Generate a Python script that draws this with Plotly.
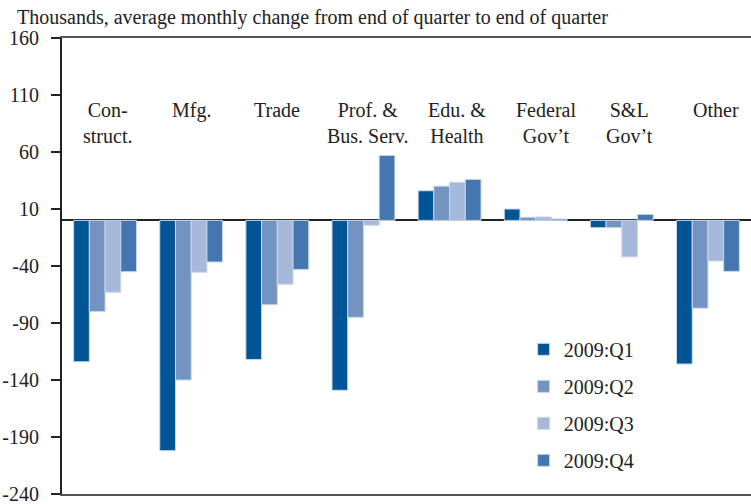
import plotly.graph_objects as go

categories = ["Con-<br>struct.", "Mfg.", "Trade", "Prof. &<br>Bus. Serv.",
              "Edu. &<br>Health", "Federal<br>Gov’t", "S&L<br>Gov’t", "Other"]
q1 = [-124, -202, -122, -149, 26, 10, -6.4, -126]
q2 = [-80, -140, -74, -85, 30, 2.7, -6.4, -77]
q3 = [-63, -45.5, -56, -4.3, 33.4, 3, -32, -35.6]
q4 = [-45, -36.5, -43, 57, 36, 1.2, 5.3, -44.7]
series_names = ["2009:Q1", "2009:Q2", "2009:Q3", "2009:Q4"]
colors = ["#005596", "#7393C0", "#A6B9DA", "#4477AF"]
y_ticks = [160, 110, 60, 10, -40, -90, -140, -190, -240]
title_text = "Thousands, average monthly change from end of quarter to end of quarter"

FONT = "Liberation Serif"
TXT = "#222"
xs = list(range(len(categories)))

fig = go.Figure()
for name, vals, col in zip(series_names, [q1, q2, q3, q4], colors):
    fig.add_trace(go.Bar(
        x=xs, y=vals, name=name, legendgroup=name,
        marker=dict(color=col, line=dict(color="#C9D6EA", width=1)),
    ))

label_shift = [2, 0, 0, 4, 7, 10, 8, 8]
for i, cat in enumerate(categories):
    fig.add_annotation(x=i, y=0.87, xref="x", yref="paper", text=cat,
                       showarrow=False, yanchor="top", xanchor="center",
                       xshift=label_shift[i],
                       font=dict(family=FONT, size=20, color=TXT))

fig.add_annotation(x=-0.068, y=1.046, xref="paper", yref="paper",
                   xanchor="left", yanchor="middle", text=title_text,
                   showarrow=False, font=dict(family=FONT, size=20, color=TXT))

fig.update_layout(
    width=751, height=504,
    margin=dict(l=62, r=0, t=38, b=10),
    plot_bgcolor="white", paper_bgcolor="white",
    barmode="group", bargap=0.27, bargroupgap=0,
    showlegend=True,
    legend=dict(x=0.67, y=0.36, xanchor="left", yanchor="top",
                font=dict(family=FONT, size=20, color=TXT),
                traceorder="grouped", tracegroupgap=8,
                bgcolor="rgba(0,0,0,0)", itemwidth=30),
    font=dict(family=FONT, size=20, color=TXT),
)
fig.update_xaxes(range=[-0.5, 7.5], showticklabels=False, ticks="",
                 showline=True, linecolor="#555", linewidth=2, mirror=True,
                 showgrid=False, zeroline=False)
fig.update_yaxes(range=[-240, 160], tickvals=y_ticks, ticktext=[str(v) for v in y_ticks],
                 ticks="outside", ticklen=9, tickwidth=1.5, tickcolor=TXT,
                 ticklabelstandoff=8, ticklabeloverflow="allow",
                 showline=True, linecolor=TXT, linewidth=2,
                 showgrid=False, zeroline=True, zerolinecolor=TXT, zerolinewidth=2,
                 tickfont=dict(family=FONT, size=20, color=TXT))

fig.write_html("out.html", config={"displayModeBar": False},
               post_script="document.body.style.margin='0';")
